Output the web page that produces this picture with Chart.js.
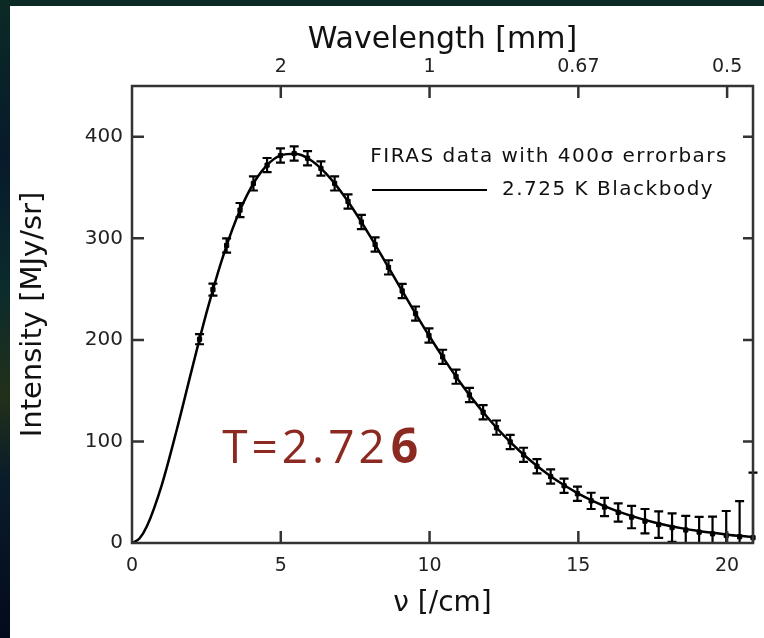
<!DOCTYPE html>
<html>
<head>
<meta charset="utf-8">
<script src="https://cdn.jsdelivr.net/npm/chart.js@4.4.1/dist/chart.umd.min.js"></script>
<style>
  body {
    margin: 0;
    width: 764px;
    height: 638px;
    overflow: hidden;
    background: linear-gradient(180deg, #0b2a25 0%, #071a2c 25%, #0b2b2c 45%, #22301a 62%, #0a1c2a 75%, #030a1c 100%);
  }
  #panel {
    position: absolute;
    left: 10px;
    top: 6px;
    width: 754px;
    height: 632px;
    background: #fff;
  }
</style>
</head>
<body>
<div id="panel"><canvas id="cmb" width="754" height="632"></canvas></div>
<script>
// FIRAS points (frequency in /cm, intensity in MJy/sr), errorbar half-widths as drawn (400 sigma)
const nu = [2.27, 2.72, 3.18, 3.63, 4.08, 4.54, 4.99, 5.45, 5.90, 6.35, 6.81, 7.26, 7.71, 8.17,
  8.62, 9.08, 9.53, 9.98, 10.44, 10.89, 11.34, 11.80, 12.25, 12.71, 13.16, 13.61, 14.07, 14.52,
  14.97, 15.43, 15.88, 16.34, 16.79, 17.24, 17.70, 18.15, 18.61, 19.06, 19.51, 19.97, 20.42, 20.87];
const intensity = [200.7, 249.5, 293.0, 327.8, 354.1, 372.1, 381.5, 383.5, 378.9, 368.8, 354.1,
  336.3, 316.1, 293.9, 271.4, 248.2, 225.9, 204.3, 183.3, 163.8, 145.8, 128.8, 113.6, 99.5, 86.8,
  75.5, 65.4, 56.4, 48.5, 41.5, 35.4, 30.1, 25.5, 21.5, 18.1, 15.2, 12.8, 10.7, 9.0, 7.5, 6.2, 5.2];
const errorBar = [5, 6, 7, 7, 7, 7, 7, 7, 7, 7, 7, 7, 7, 7, 7, 7, 7, 7, 7, 7, 7, 7, 7, 7, 7, 7, 7,
  7, 7, 8, 9, 9, 11, 12, 13, 14, 14, 15, 17, 24, 35, 64];

// blackbody curve
const curveNu = [0, 0.25, 0.5, 1, 1.5, 2, 2.5, 3, 3.5, 4, 4.5, 5, 5.5, 6, 6.5, 7, 7.5, 8, 8.5, 9,
  9.5, 10, 10.5, 11, 11.5, 12, 12.5, 13, 13.5, 14, 14.5, 15, 15.5, 16, 16.5, 17, 17.5, 18, 18.5,
  19, 19.5, 20, 20.5, 21];
const curveIntensity = [0, 4.4, 16.4, 57.1, 111.0, 169.5, 226.3, 276.9, 318.6, 350.0, 370.9,
  381.7, 383.2, 377.1, 364.4, 346.8, 325.7, 302.2, 277.4, 252.3, 227.4, 203.3, 180.6, 159.3,
  139.7, 121.8, 105.7, 91.3, 78.5, 67.2, 57.3, 48.7, 41.3, 34.9, 29.4, 24.7, 20.7, 17.3, 14.4,
  12.0, 10.0, 8.2, 6.8, 5.6];

const xTicks = [0, 5, 10, 15, 20];
const yTicks = [0, 100, 200, 300, 400];
const wavelengthTicks = [5, 10, 15, 20];
const wavelengthLabels = ['2', '1', '0.67', '0.5'];

const dataLabel = 'FIRAS data with 400σ errorbars';
const curveLabel = '2.725 K Blackbody';
const note = { text: 'T=2.72', last: '6', x: 3.03, y: 79 };

const frameColor = '#333';
const sans = '"DejaVu Sans", sans-serif';

const points = nu.map((v, i) => ({ x: v, y: intensity[i] }));
const curve = curveNu.map((v, i) => ({ x: v, y: curveIntensity[i] }));

const setTicks = (list) => (scale) => {
    scale.ticks = list.map(v => ({ value: v }));
};

// frame, inward ticks, errorbars, legend text and the T note
const extras = {
    id: 'extras',
    afterDatasetsDraw(chart) {
        const c = chart.ctx;
        const a = chart.chartArea;
        const xs = chart.scales.x;
        const ys = chart.scales.y;

        c.save();
        c.strokeStyle = '#000';
        c.lineWidth = 2.2;
        for (let i = 0; i < nu.length; i++) {
            const px = xs.getPixelForValue(nu[i]);
            const top = ys.getPixelForValue(intensity[i] + errorBar[i]);
            const bot = Math.min(ys.getPixelForValue(intensity[i] - errorBar[i]), a.bottom);
            c.beginPath();
            c.moveTo(px, top);
            c.lineTo(px, bot);
            c.moveTo(px - 4.5, top);
            c.lineTo(px + 4.5, top);
            if (bot < a.bottom) {
                c.moveTo(px - 4.5, bot);
                c.lineTo(px + 4.5, bot);
            }
            c.stroke();
        }

        c.strokeStyle = frameColor;
        c.lineWidth = 2.5;
        c.strokeRect(a.left, a.top, a.right - a.left, a.bottom - a.top);
        c.beginPath();
        yTicks.slice(1).forEach(v => {
            const py = ys.getPixelForValue(v);
            c.moveTo(a.left, py);
            c.lineTo(a.left + 12, py);
            c.moveTo(a.right, py);
            c.lineTo(a.right - 10, py);
        });
        xTicks.slice(1).forEach(v => {
            const px = xs.getPixelForValue(v);
            c.moveTo(px, a.bottom);
            c.lineTo(px, a.bottom - 12);
        });
        wavelengthTicks.forEach(v => {
            const px = xs.getPixelForValue(v);
            c.moveTo(px, a.top);
            c.lineTo(px, a.top + 12);
        });
        c.stroke();

        // legend
        c.fillStyle = '#111';
        c.font = '20px ' + sans;
        c.letterSpacing = '1.5px';
        c.textBaseline = 'middle';
        c.textAlign = 'right';
        c.fillText(dataLabel, a.right - 25, a.top + 71);
        c.strokeStyle = '#000';
        c.lineWidth = 2;
        c.beginPath();
        c.moveTo(a.left + 240, a.top + 104);
        c.lineTo(a.left + 355, a.top + 104);
        c.stroke();
        c.textAlign = 'left';
        c.fillText(curveLabel, a.left + 370, a.top + 104);

        // T note
        const nx = xs.getPixelForValue(note.x);
        const ny = ys.getPixelForValue(note.y);
        c.fillStyle = '#8c2a22';
        c.textBaseline = 'alphabetic';
        c.letterSpacing = '4px';
        c.font = '46px "Open Sans", sans-serif';
        c.fillText(note.text, nx, ny);
        const w = c.measureText(note.text).width;
        c.font = 'bold 48px "Open Sans", sans-serif';
        c.fillText(note.last, nx + w + 2, ny);
        c.restore();
    }
};

new Chart(document.getElementById('cmb'), {
    type: 'scatter',
    data: {
        datasets: [
            {
                label: dataLabel,
                data: points,
                pointStyle: 'rect',
                pointRadius: 3,
                backgroundColor: '#000',
                borderColor: '#000',
                showLine: false,
                clip: false
            },
            {
                label: curveLabel,
                data: curve,
                showLine: true,
                pointRadius: 0,
                borderColor: '#000',
                borderWidth: 2.5,
                cubicInterpolationMode: 'monotone'
            }
        ]
    },
    options: {
        responsive: false,
        animation: false,
        devicePixelRatio: 1,
        layout: { padding: { left: 0, right: 11, top: 0, bottom: 0 } },
        plugins: {
            legend: { display: false },
            tooltip: { enabled: false }
        },
        scales: {
            x: {
                type: 'linear',
                position: 'bottom',
                min: 0,
                max: 20.87,
                afterBuildTicks: setTicks(xTicks),
                afterFit: (s) => { s.height = 95; },
                grid: { display: false, drawTicks: false },
                border: { display: false },
                ticks: { color: '#222', font: { family: sans, size: 19 }, padding: 12, maxRotation: 0 },
                title: { display: true, text: 'ν [/cm]', color: '#111', font: { family: sans, size: 28 }, padding: { bottom: 17 } }
            },
            x2: {
                type: 'linear',
                position: 'top',
                min: 0,
                max: 20.87,
                afterBuildTicks: setTicks(wavelengthTicks),
                afterFit: (s) => { s.height = 80; },
                grid: { display: false, drawTicks: false },
                border: { display: false },
                ticks: {
                    color: '#222',
                    font: { family: sans, size: 19 },
                    padding: 8,
                    maxRotation: 0,
                    callback: (v) => wavelengthLabels[wavelengthTicks.indexOf(v)]
                },
                title: { display: true, text: 'Wavelength [mm]', color: '#111', font: { family: sans, size: 30 }, padding: { top: 16 } }
            },
            y: {
                min: 0,
                max: 450,
                afterBuildTicks: setTicks(yTicks),
                afterFit: (s) => { s.width = 122; },
                grid: { display: false, drawTicks: false },
                border: { display: false },
                ticks: { color: '#222', font: { family: sans, size: 20 }, padding: 9 },
                title: { display: true, text: 'Intensity [MJy/sr]', color: '#111', font: { family: sans, size: 29 }, padding: { top: 6 } }
            }
        }
    },
    plugins: [extras]
});
</script>
</body>
</html>
